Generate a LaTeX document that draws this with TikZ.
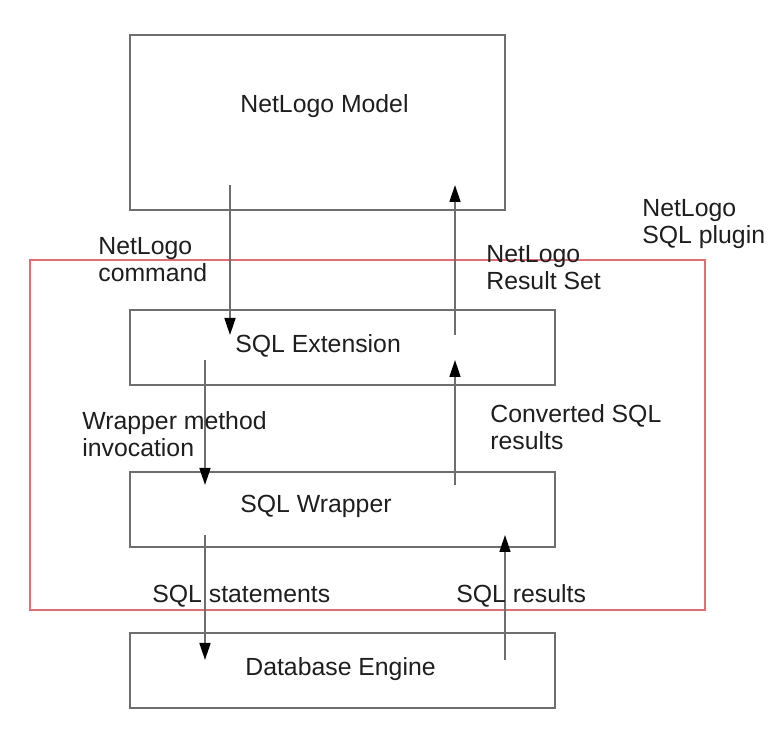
\documentclass[tikz,border=0pt]{standalone}
\usepackage{fontspec}
\setmainfont{Liberation Sans}
\usetikzlibrary{arrows.meta}
\definecolor{boxgray}{RGB}{110,110,110}
\definecolor{pluginred}{RGB}{224,110,115}
\definecolor{textgray}{RGB}{30,30,30}
\tikzset{%
  >={Triangle[width=5.5pt,length=8.5pt,black]},
  % Specifications for style of nodes:
         base/.style = {rectangle, draw=boxgray, line width=0.8pt,
                        inner sep=0pt, minimum height=37.5pt},
        model/.style = {base, minimum width=187.5pt, minimum height=87.5pt},
      process/.style = {base, minimum width=212.5pt},
       plugin/.style = {rectangle, draw=pluginred, line width=0.6pt,
                        inner sep=0pt, minimum width=337.5pt,
                        minimum height=175pt},
        title/.style = {anchor=base west, inner sep=0pt, text=textgray,
                        font=\fontsize{12.4}{13.75}\selectfont},
        label/.style = {title, align=left},
         flow/.style = {->, draw=boxgray, line width=0.8pt},
                    }
\begin{document}
\begin{tikzpicture}[x=0.5pt, y=-0.5pt]
  \useasboundingbox (0,0) rectangle (784,743);
  % Specification of nodes (position, etc.)
  \node (Plugin)         [plugin]  at (367.5,435)   {};
  \node (NetLogoModel)   [model]   at (317.5,122.5) {};
  \node (SQLExtension)   [process] at (342.5,347.5) {};
  \node (SQLWrapper)     [process] at (342.5,509.5) {};
  \node (DatabaseEngine) [process] at (342.5,670.5) {};

  \node (ModelText)     [title] at (240,113) {NetLogo Model};
  \node (ExtensionText) [title] at (235,353) {SQL Extension};
  \node (WrapperText)   [title] at (240,513) {SQL Wrapper};
  \node (EngineText)    [title] at (245,676) {Database Engine};

  % end points of the connectors inside the boxes
  \coordinate (CommandOut)    at (230,185);
  \coordinate (CommandIn)     at (230,335);
  \coordinate (ResultSetOut)  at (455,335);
  \coordinate (ResultSetIn)   at (455,185);
  \coordinate (InvocationOut) at (205,360);
  \coordinate (InvocationIn)  at (205,485);
  \coordinate (ConvertedOut)  at (455,485);
  \coordinate (ConvertedIn)   at (455,360);
  \coordinate (StatementsOut) at (205,535);
  \coordinate (StatementsIn)  at (205,660);
  \coordinate (ResultsOut)    at (505,660);
  \coordinate (ResultsIn)     at (505,535);

  % Specification of lines between nodes specified above
  \draw[flow] (CommandOut) -- (CommandIn);
  \draw[flow] (ResultSetOut) -- (ResultSetIn);
  \draw[flow] (InvocationOut) -- (InvocationIn);
  \draw[flow] (ConvertedOut) -- (ConvertedIn);
  \draw[flow] (StatementsOut) -- (StatementsIn);
  \draw[flow] (ResultsOut) -- (ResultsIn);

  % with aditional nodes for description (base of the last line)
  \node (CommandLabel)    [label] at (98,282)  {NetLogo\\command};
  \node (ResultSetLabel)  [label] at (486,290) {NetLogo\\Result Set};
  \node (PluginLabel)     [label] at (642,244) {NetLogo\\SQL plugin};
  \node (InvocationLabel) [label] at (82,457)  {Wrapper method\\invocation};
  \node (ConvertedLabel)  [label] at (490,450) {Converted SQL\\results};
  \node (StatementsLabel) [label] at (152,603) {SQL statements};
  \node (ResultsLabel)    [label] at (456,603) {SQL results};
\end{tikzpicture}
\end{document}
